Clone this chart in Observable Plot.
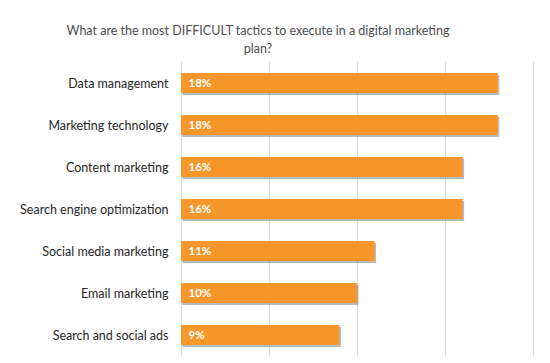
<!DOCTYPE html>
<html><head><meta charset="utf-8">
<script src="https://cdn.jsdelivr.net/npm/d3@7"></script>
<script src="https://cdn.jsdelivr.net/npm/@observablehq/plot@0.6"></script>
<style>
body{margin:0;background:#fff;width:550px;height:363px;overflow:hidden;}
#title{font-family:Lato,"Open Sans",sans-serif;font-size:12.5px;color:#4d4d4d;text-align:center;line-height:18px;padding-top:22px;padding-right:34px;height:36px;}
</style></head>
<body>
<div id="title">What are the most DIFFICULT tactics to execute in a digital marketing<br>plan?</div>
<div id="chart"></div>
<script>
const categories = ["Data management","Marketing technology","Content marketing","Search engine optimization","Social media marketing","Email marketing","Search and social ads"];
const values = [18,18,16,16,11,10,9];
const gridTicks = [0,5,10,15,20];
const data = categories.map((c,i)=>({category:c, value:values[i]}));

const chart = Plot.plot({
  width:550, height:305,
  marginTop:4, marginBottom:7, marginLeft:181, marginRight:17,
  style:{fontFamily:"Lato, 'Open Sans', sans-serif", background:"#fff"},
  x:{domain:[0,20], axis:null},
  y:{domain:categories, paddingInner:0.535, paddingOuter:0.2675, axis:null},
  marks:[
    Plot.ruleX(gridTicks,{stroke:"#d9d9d9", strokeWidth:1}),
    Plot.barX(data,{x:"value", y:"category", fill:"#7f7f7f", fillOpacity:0.55, dx:1.5, dy:2}),
    Plot.barX(data,{x:"value", y:"category", fill:"#F7962B"}),
    Plot.text(data,{x:0, y:"category", text:d=>d.value+"%", dx:7, textAnchor:"start", fill:"#fff", fontSize:11.5, fontWeight:"bold"}),
    Plot.axisY({tickSize:0, tickPadding:13, fontSize:12.5, label:null, color:"#262626"})
  ]
});
document.getElementById("chart").appendChild(chart);
</script>
</body></html>
